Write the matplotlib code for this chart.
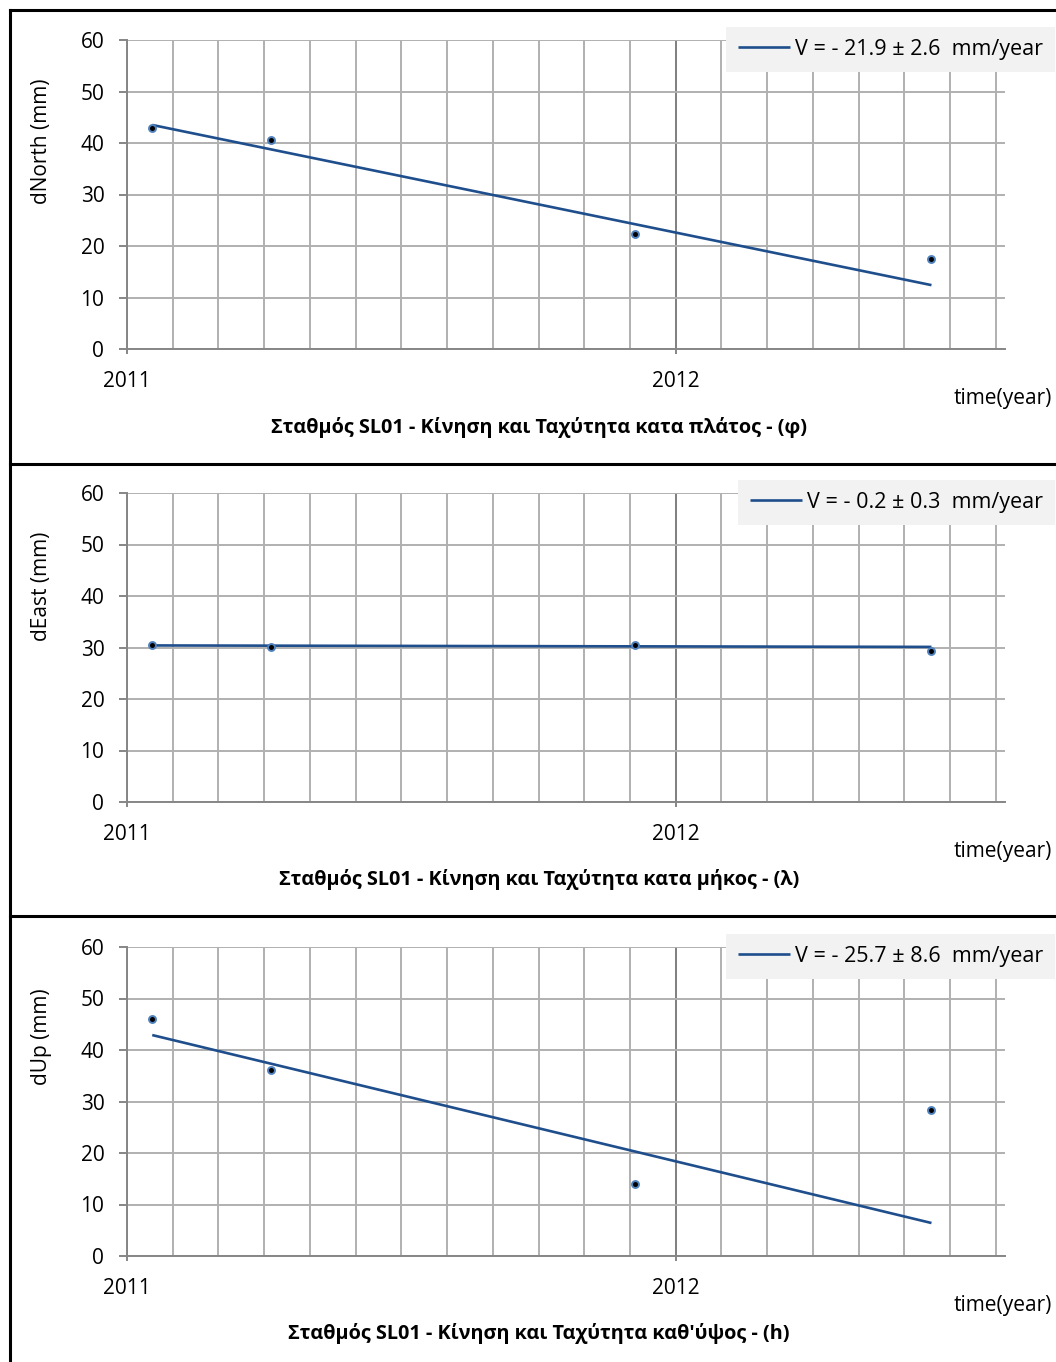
import matplotlib
matplotlib.use('Agg')
import matplotlib.pyplot as plt
from matplotlib.ticker import MultipleLocator
from matplotlib.lines import Line2D

plt.rcParams['font.family'] = ['Open Sans', 'DejaVu Sans']

W, H = 1056, 1362

# campaign epochs (decimal year) and station displacements (mm)
epochs = [2011.046, 2011.262, 2011.925, 2012.466]
d_north = [42.9, 40.6, 22.3, 17.5]
d_east = [30.5, 30.1, 30.5, 29.3]
d_up = [46.0, 36.1, 14.0, 28.3]

# velocity (mm/year), its sigma, and trend value at the first epoch
vel = [-21.9, -0.2, -25.7]
vel_sigma = [2.6, 0.3, 8.6]
trend_start = [43.5, 30.4, 42.9]

ylabels = ['dNorth (mm)', 'dEast (mm)', 'dUp (mm)']
titles = ['Σταθμός SL01 - Κίνηση και Ταχύτητα κατα πλάτος - (φ)',
          'Σταθμός SL01 - Κίνηση και Ταχύτητα κατα μήκος - (λ)',
          "Σταθμός SL01 - Κίνηση και Ταχύτητα καθ'ύψος - (h)"]

# layout in pixels
ax_left, ax_right, ax_h = 127, 1005, 309
tops = [40, 493, 947]
leg_pos = [(726, 27), (738, 480), (726, 934)]
ylab_y = [141, 586, 1037]
box_tops = [10, 464, 916]


def fx(x):
    return x / W


def fy(y):
    return 1 - y / H


fig = plt.figure(figsize=(W / 100, H / 100), dpi=100)
fig.patch.set_facecolor('white')

axis_col = '#868686'
grid_col = '#b0b0b0'

for i, vals in enumerate([d_north, d_east, d_up]):
    top = tops[i]
    ax = fig.add_axes([fx(ax_left), fy(top + ax_h), (ax_right - ax_left) / W, ax_h / H])
    ax.set_xlim(2011, 2012.6)
    ax.set_ylim(0, 60)

    ax.xaxis.set_major_locator(MultipleLocator(1))
    ax.xaxis.set_minor_locator(MultipleLocator(1 / 12))
    ax.yaxis.set_major_locator(MultipleLocator(10))
    ax.xaxis.set_major_formatter(matplotlib.ticker.FormatStrFormatter('%d'))

    ax.set_axisbelow(True)
    ax.grid(which='minor', axis='x', color=grid_col, lw=1.4)
    ax.grid(which='major', axis='x', color='#7f7f7f', lw=1.4)
    ax.grid(which='major', axis='y', color=grid_col, lw=1.4)

    for s in ['top', 'right']:
        ax.spines[s].set_visible(False)
    for s in ['left', 'bottom']:
        ax.spines[s].set_color(axis_col)
        ax.spines[s].set_linewidth(1.4)

    ax.tick_params(axis='y', length=5.8, width=1.4, color=axis_col, pad=10.5, labelsize=15)
    ax.tick_params(axis='x', which='major', length=3.6, width=1.4, color=axis_col, pad=12.5, labelsize=15)
    ax.tick_params(axis='x', which='minor', length=0)

    # linear trend from the estimated velocity
    tx = [epochs[0], epochs[-1]]
    ty = [trend_start[i] + vel[i] * (t - epochs[0]) for t in tx]
    ax.plot(tx, ty, color='#1f4e8c', lw=1.9, solid_capstyle='butt',
            label='V = - %.1f ± %.1f  mm/year' % (abs(vel[i]), vel_sigma[i]))
    ax.plot(epochs, vals, 'o', ms=5, mfc='black', mec='#4f81bd', mew=1.4, clip_on=False)

    lx, ly = leg_pos[i]
    ax.legend(loc='upper left', bbox_to_anchor=(fx(lx), fy(ly)), bbox_transform=fig.transFigure,
              fontsize=15.5, frameon=True, fancybox=False, facecolor='#f2f2f2', edgecolor='none',
              framealpha=1, borderpad=0.55, borderaxespad=0, handlelength=2.4, handletextpad=0.25)

    fig.text(fx(42), fy(ylab_y[i]), ylabels[i], rotation=90, ha='center', va='center', fontsize=15)
    fig.text(fx(1052), fy(top + 358), 'time(year)', ha='right', va='center', fontsize=15)
    fig.text(fx(539), fy(top + 387), titles[i], ha='center', va='center', fontsize=14.3, fontweight='bold')

# chart borders
border = dict(transform=fig.transFigure, color='black', lw=2.2)
fig.add_artist(Line2D([fx(10), fx(10)], [fy(10), 0], **border))
for y in box_tops:
    fig.add_artist(Line2D([fx(10), 1], [fy(y), fy(y)], **border))

fig.savefig('out.png', dpi=100)
